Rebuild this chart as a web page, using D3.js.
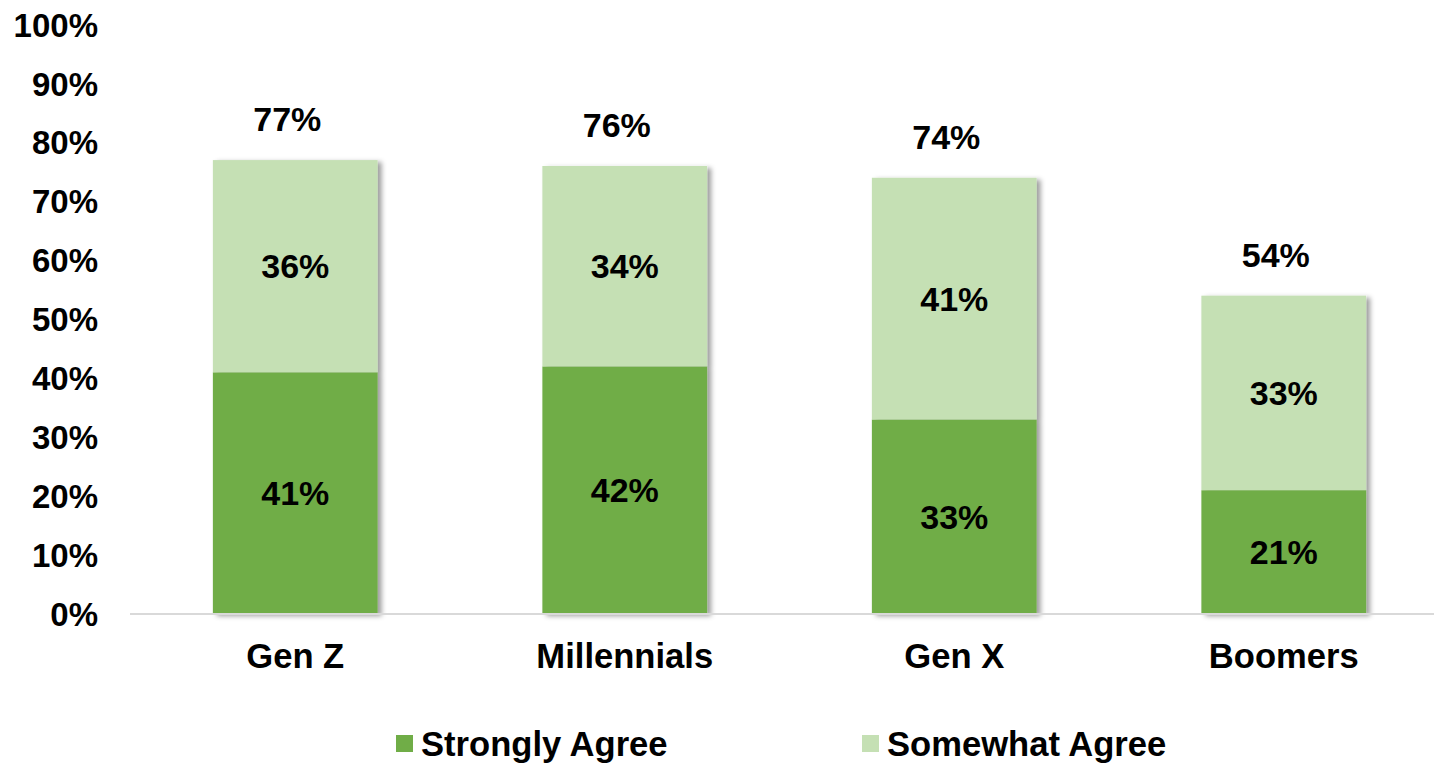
<!DOCTYPE html>
<html>
<head>
<meta charset="utf-8">
<script src="https://cdn.jsdelivr.net/npm/d3@7/dist/d3.min.js"></script>
<style>
  html, body { margin: 0; padding: 0; background: #fff; }
  svg { display: block; font-family: "Liberation Sans", Arial, sans-serif; font-weight: bold; }
</style>
</head>
<body>
<svg id="chart" width="1434" height="763"></svg>
<script>
// Survey results by generation (percent)
const categories = ["Gen Z", "Millennials", "Gen X", "Boomers"];
const stronglyAgree = [41, 42, 33, 21];
const somewhatAgree = [36, 34, 41, 33];
const totals = [77, 76, 74, 54];
const seriesNames = ["Strongly Agree", "Somewhat Agree"];
const seriesColors = ["#70AD47", "#C5E0B4"];
const yTicks = [0, 10, 20, 30, 40, 50, 60, 70, 80, 90, 100];

const svg = d3.select("#chart");
const tickFont = 33;
const valueFont = 34;
const labelFont = 34.6;

const x = d3.scaleBand()
  .domain(categories)
  .range([130.5, 1448.5])
  .paddingInner(0.5)
  .paddingOuter(0.25);

const y = d3.scaleLinear()
  .domain([0, 100])
  .range([614, 24.5]);

// soft shadow to the right of each bar
const defs = svg.append("defs");
const f = defs.append("filter").attr("id", "barShadow")
  .attr("x", "-10%").attr("y", "-10%").attr("width", "130%").attr("height", "120%");
f.append("feDropShadow")
  .attr("dx", 4).attr("dy", 2).attr("stdDeviation", 2.5)
  .attr("flood-color", "#000").attr("flood-opacity", 0.38);

// y axis labels
const yAxis = d3.axisLeft(y)
  .tickValues(yTicks)
  .tickFormat(d => d + "%")
  .tickSize(0)
  .tickPadding(0);
const yg = svg.append("g").attr("transform", "translate(98,0)").call(yAxis);
yg.select(".domain").remove();
yg.selectAll("text")
  .attr("font-size", tickFont)
  .attr("font-family", "Liberation Sans, Arial, sans-serif")
  .attr("font-weight", "bold")
  .attr("fill", "#000")
  .attr("dy", "0.35em");

// stacked data
const rows = categories.map((c, i) => ({
  cat: c, strong: stronglyAgree[i], some: somewhatAgree[i], total: totals[i]
}));
const stack = d3.stack().keys(["strong", "some"]);
const stacked = stack(rows);

// bars (one group per category so the shadow covers the whole column)
const barGroups = svg.append("g").selectAll("g.bar")
  .data(rows)
  .join("g")
  .attr("class", "bar")
  .attr("filter", "url(#barShadow)");

barGroups.each(function(d, i) {
  const g = d3.select(this);
  stacked.forEach((s, k) => {
    g.append("rect")
      .attr("x", x(d.cat))
      .attr("width", x.bandwidth())
      .attr("y", y(s[i][1]))
      .attr("height", y(s[i][0]) - y(s[i][1]))
      .attr("fill", seriesColors[k]);
  });
});

// baseline
svg.append("line")
  .attr("x1", 130).attr("x2", 1434)
  .attr("y1", y(0)).attr("y2", y(0))
  .attr("stroke", "#d9d9d9").attr("stroke-width", 2);

// segment value labels
stacked.forEach((s, k) => {
  svg.append("g").selectAll("text")
    .data(s)
    .join("text")
    .attr("x", d => x(d.data.cat) + x.bandwidth() / 2)
    .attr("y", d => y((d[0] + d[1]) / 2))
    .attr("dy", "0.35em")
    .attr("text-anchor", "middle")
    .attr("font-size", valueFont)
    .attr("fill", "#000")
    .text(d => (d[1] - d[0]) + "%");
});

// totals above each column
svg.append("g").selectAll("text")
  .data(rows)
  .join("text")
  .attr("x", d => x(d.cat) + x.bandwidth() / 2 - 8)
  .attr("y", d => y(d.total) - 29)
  .attr("text-anchor", "middle")
  .attr("font-size", valueFont)
  .attr("fill", "#000")
  .text(d => d.total + "%");

// category axis
const xAxis = d3.axisBottom(x).tickSize(0).tickPadding(0);
const xg = svg.append("g").attr("transform", "translate(0,668)").call(xAxis);
xg.select(".domain").remove();
xg.selectAll("text")
  .attr("font-size", labelFont)
  .attr("font-family", "Liberation Sans, Arial, sans-serif")
  .attr("font-weight", "bold")
  .attr("fill", "#000")
  .attr("dy", 0);

// legend
const legendX = [396, 862];
const legend = svg.append("g").selectAll("g")
  .data(seriesNames)
  .join("g")
  .attr("transform", (d, i) => `translate(${legendX[i]},735)`);
legend.append("rect")
  .attr("width", 17).attr("height", 17)
  .attr("fill", (d, i) => seriesColors[i]);
legend.append("text")
  .attr("x", 25).attr("y", 20.5)
  .attr("font-size", labelFont)
  .attr("fill", "#000")
  .text(d => d);
</script>
</body>
</html>
